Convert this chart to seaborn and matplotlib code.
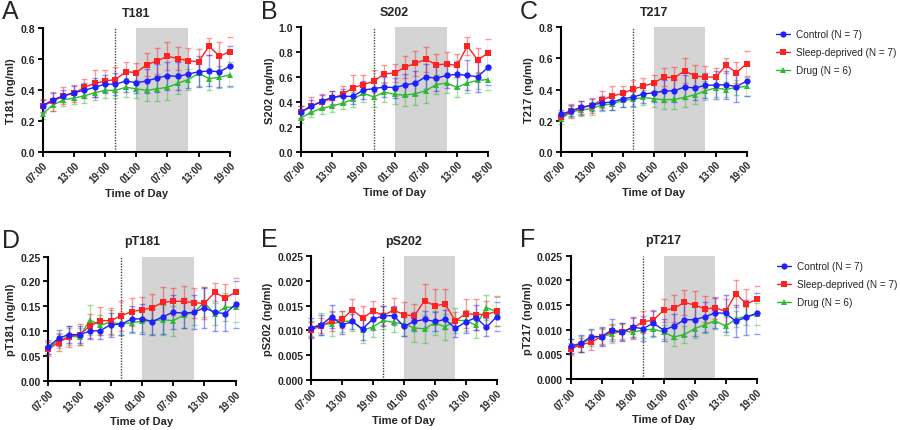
import numpy as np
import pandas as pd
import matplotlib
matplotlib.use("Agg")
import matplotlib.pyplot as plt
from matplotlib.lines import Line2D
import seaborn as sns

# time axis: hours since 07:00, one sample every 2 h
hours = list(range(0, 37, 2))
tick_pos = [0, 6, 12, 18, 24, 30, 36]
tick_labels = ["07:00", "13:00", "19:00", "01:00", "07:00", "13:00", "19:00"]

groups = ["Control (N = 7)", "Sleep-deprived (N = 7)", "Drug (N = 6)"]

# T181
t181_ctrl = [0.30, 0.34, 0.365, 0.386, 0.40, 0.42, 0.44, 0.44, 0.46, 0.45, 0.46, 0.48, 0.495, 0.49, 0.505, 0.52, 0.525, 0.52, 0.555]
t181_sd = [0.30, 0.33, 0.365, 0.38, 0.42, 0.445, 0.46, 0.47, 0.52, 0.515, 0.565, 0.59, 0.62, 0.605, 0.59, 0.585, 0.685, 0.62, 0.65]
t181_drug = [0.25, 0.305, 0.34, 0.35, 0.365, 0.385, 0.40, 0.40, 0.42, 0.41, 0.40, 0.41, 0.42, 0.445, 0.47, 0.51, 0.475, 0.485, 0.50]
t181_ctrl_err = [0.04, 0.04, 0.04, 0.045, 0.05, 0.06, 0.06, 0.07, 0.07, 0.07, 0.08, 0.09, 0.09, 0.09, 0.09, 0.10, 0.10, 0.10, 0.13]
t181_sd_err = [0.045, 0.06, 0.055, 0.055, 0.056, 0.085, 0.07, 0.08, 0.06, 0.06, 0.075, 0.085, 0.09, 0.075, 0.085, 0.08, 0.055, 0.09, 0.095]
t181_drug_err = [0.035, 0.04, 0.04, 0.04, 0.045, 0.05, 0.05, 0.05, 0.06, 0.06, 0.07, 0.08, 0.08, 0.07, 0.07, 0.08, 0.07, 0.07, 0.08]

# S202
s202_ctrl = [0.316, 0.365, 0.405, 0.437, 0.445, 0.445, 0.496, 0.507, 0.52, 0.515, 0.536, 0.552, 0.603, 0.59, 0.614, 0.622, 0.614, 0.603, 0.68]
s202_sd = [0.32, 0.37, 0.40, 0.43, 0.46, 0.515, 0.54, 0.566, 0.625, 0.633, 0.68, 0.71, 0.743, 0.70, 0.705, 0.694, 0.85, 0.737, 0.796]
s202_drug = [0.273, 0.316, 0.35, 0.367, 0.39, 0.42, 0.47, 0.44, 0.48, 0.46, 0.455, 0.466, 0.49, 0.54, 0.552, 0.517, 0.552, 0.574, 0.58]
s202_ctrl_err = [0.05, 0.05, 0.05, 0.05, 0.06, 0.06, 0.07, 0.08, 0.08, 0.08, 0.09, 0.10, 0.10, 0.10, 0.10, 0.11, 0.12, 0.12, 0.14]
s202_sd_err = [0.05, 0.07, 0.06, 0.06, 0.07, 0.10, 0.08, 0.09, 0.07, 0.07, 0.09, 0.10, 0.10, 0.09, 0.10, 0.09, 0.07, 0.10, 0.11]
s202_drug_err = [0.04, 0.04, 0.05, 0.05, 0.05, 0.06, 0.07, 0.08, 0.08, 0.08, 0.09, 0.09, 0.10, 0.08, 0.08, 0.08, 0.08, 0.07, 0.08]

# T217
t217_ctrl = [0.239, 0.263, 0.285, 0.30, 0.313, 0.32, 0.34, 0.351, 0.371, 0.379, 0.39, 0.392, 0.416, 0.41, 0.427, 0.429, 0.431, 0.418, 0.455]
t217_sd = [0.224, 0.26, 0.283, 0.296, 0.334, 0.358, 0.375, 0.403, 0.422, 0.442, 0.48, 0.476, 0.52, 0.487, 0.48, 0.48, 0.556, 0.509, 0.567]
t217_drug = [0.21, 0.256, 0.267, 0.278, 0.30, 0.306, 0.33, 0.336, 0.35, 0.34, 0.334, 0.336, 0.35, 0.366, 0.392, 0.41, 0.40, 0.414, 0.42]
t217_ctrl_err = [0.03, 0.035, 0.04, 0.04, 0.045, 0.05, 0.05, 0.06, 0.06, 0.06, 0.07, 0.07, 0.08, 0.08, 0.08, 0.09, 0.09, 0.10, 0.10]
t217_sd_err = [0.03, 0.045, 0.045, 0.05, 0.055, 0.065, 0.05, 0.06, 0.05, 0.05, 0.06, 0.07, 0.08, 0.07, 0.07, 0.06, 0.05, 0.07, 0.08]
t217_drug_err = [0.03, 0.035, 0.035, 0.04, 0.04, 0.04, 0.04, 0.05, 0.05, 0.05, 0.06, 0.06, 0.06, 0.06, 0.06, 0.06, 0.05, 0.05, 0.06]

# pT181
pt181_ctrl = [0.068, 0.086, 0.093, 0.093, 0.10, 0.101, 0.113, 0.114, 0.124, 0.125, 0.119, 0.129, 0.138, 0.136, 0.138, 0.147, 0.138, 0.135, 0.154]
pt181_sd = [0.064, 0.077, 0.089, 0.093, 0.11, 0.121, 0.121, 0.131, 0.139, 0.143, 0.147, 0.158, 0.16, 0.16, 0.157, 0.156, 0.178, 0.167, 0.178]
pt181_drug = [0.066, 0.081, 0.089, 0.089, 0.122, 0.112, 0.118, 0.114, 0.117, 0.12, 0.121, 0.123, 0.121, 0.132, 0.138, 0.158, 0.134, 0.148, 0.148]
pt181_ctrl_err = [0.014, 0.017, 0.018, 0.018, 0.016, 0.016, 0.024, 0.022, 0.026, 0.03, 0.026, 0.035, 0.034, 0.03, 0.034, 0.04, 0.038, 0.035, 0.048]
pt181_sd_err = [0.015, 0.018, 0.022, 0.022, 0.024, 0.028, 0.026, 0.03, 0.028, 0.025, 0.028, 0.03, 0.027, 0.03, 0.03, 0.032, 0.018, 0.028, 0.03]
pt181_drug_err = [0.012, 0.015, 0.018, 0.018, 0.03, 0.02, 0.025, 0.022, 0.02, 0.022, 0.026, 0.03, 0.03, 0.025, 0.025, 0.03, 0.022, 0.028, 0.03]

# pS202
ps202_ctrl = [0.0105, 0.0111, 0.0128, 0.0111, 0.0118, 0.0103, 0.0123, 0.0129, 0.013, 0.0108, 0.0118, 0.0122, 0.0118, 0.0122, 0.0104, 0.0117, 0.0126, 0.0106, 0.0128]
ps202_sd = [0.0101, 0.0109, 0.0119, 0.0122, 0.0142, 0.0125, 0.0139, 0.013, 0.0141, 0.0132, 0.0129, 0.016, 0.015, 0.0153, 0.0119, 0.0134, 0.0132, 0.0132, 0.0139]
ps202_drug = [0.0104, 0.0113, 0.0113, 0.0118, 0.0119, 0.010, 0.0107, 0.012, 0.0116, 0.0113, 0.0105, 0.0103, 0.0115, 0.0107, 0.012, 0.012, 0.011, 0.0146, 0.0138]
ps202_ctrl_err = [0.002, 0.002, 0.0023, 0.0018, 0.0015, 0.0022, 0.0022, 0.002, 0.002, 0.002, 0.002, 0.0018, 0.002, 0.002, 0.0018, 0.0022, 0.0025, 0.0018, 0.003]
ps202_sd_err = [0.0015, 0.0015, 0.002, 0.0018, 0.0022, 0.0025, 0.0021, 0.002, 0.0024, 0.0025, 0.0025, 0.0033, 0.0033, 0.0031, 0.0018, 0.003, 0.0031, 0.0028, 0.003]
ps202_drug_err = [0.0015, 0.0022, 0.0025, 0.0021, 0.002, 0.0026, 0.002, 0.0018, 0.002, 0.0025, 0.0028, 0.0028, 0.0025, 0.0026, 0.0025, 0.0022, 0.0025, 0.0026, 0.003]

# pT217
pt217_ctrl = [0.0067, 0.0072, 0.0086, 0.0086, 0.0099, 0.0095, 0.0105, 0.0102, 0.0113, 0.0099, 0.0107, 0.012, 0.012, 0.0126, 0.0134, 0.0133, 0.0117, 0.0125, 0.0133]
pt217_sd = [0.0061, 0.0069, 0.0075, 0.0086, 0.0097, 0.0096, 0.0103, 0.0116, 0.0119, 0.0139, 0.0143, 0.0155, 0.015, 0.0142, 0.0144, 0.0137, 0.0173, 0.0152, 0.0161]
pt217_drug = [0.0065, 0.0071, 0.0083, 0.0086, 0.0091, 0.0097, 0.0095, 0.0099, 0.0101, 0.0095, 0.0085, 0.009, 0.0102, 0.011, 0.0118, 0.0107, 0.0122, 0.0127, 0.0131]
pt217_ctrl_err = [0.0015, 0.0017, 0.0016, 0.002, 0.0022, 0.0019, 0.002, 0.0025, 0.0025, 0.0022, 0.0025, 0.0033, 0.0033, 0.003, 0.003, 0.0038, 0.0032, 0.0035, 0.0042]
pt217_sd_err = [0.0012, 0.0014, 0.0016, 0.0018, 0.0015, 0.0017, 0.0021, 0.0022, 0.002, 0.0023, 0.0027, 0.0025, 0.0028, 0.0027, 0.0022, 0.0025, 0.0028, 0.0031, 0.0028]
pt217_drug_err = [0.0015, 0.0017, 0.0016, 0.0015, 0.0018, 0.0015, 0.0012, 0.0015, 0.0015, 0.0015, 0.0018, 0.0018, 0.0018, 0.0017, 0.0016, 0.0018, 0.0016, 0.0018, 0.0022]

colors = {groups[0]: "#1f1fff", groups[1]: "#ff2222", groups[2]: "#2dbb2d"}
markers = {groups[0]: "o", groups[1]: "s", groups[2]: "^"}

panels = [
    ("A", "T181", (t181_ctrl, t181_sd, t181_drug), (t181_ctrl_err, t181_sd_err, t181_drug_err),
     [0.0474, 0.644, 0.208, 0.288], 0.8, 0.2, "%.1f"),
    ("B", "S202", (s202_ctrl, s202_sd, s202_drug), (s202_ctrl_err, s202_sd_err, s202_drug_err),
     [0.3344, 0.646, 0.208, 0.288], 1.0, 0.2, "%.1f"),
    ("C", "T217", (t217_ctrl, t217_sd, t217_drug), (t217_ctrl_err, t217_sd_err, t217_drug_err),
     [0.623, 0.646, 0.2067, 0.288], 0.8, 0.2, "%.1f"),
    ("D", "pT181", (pt181_ctrl, pt181_sd, pt181_drug), (pt181_ctrl_err, pt181_sd_err, pt181_drug_err),
     [0.0537, 0.1144, 0.208, 0.2877], 0.25, 0.05, "%.2f"),
    ("E", "pS202", (ps202_ctrl, ps202_sd, ps202_drug), (ps202_ctrl_err, ps202_sd_err, ps202_drug_err),
     [0.3456, 0.1167, 0.2063, 0.2863], 0.025, 0.005, "%.3f"),
    ("F", "pT217", (pt217_ctrl, pt217_sd, pt217_drug), (pt217_ctrl_err, pt217_sd_err, pt217_drug_err),
     [0.634, 0.1183, 0.2067, 0.2865], 0.025, 0.005, "%.3f"),
]

sns.set_theme(style="ticks")
plt.rcParams["font.family"] = ["Liberation Sans", "DejaVu Sans"]

fig = plt.figure(figsize=(9, 4.31), dpi=100)

letter_x = {"A": 0.002, "B": 0.29, "C": 0.578, "D": 0.002, "E": 0.29, "F": 0.578}
legend_pos = {"C": (1.16, 0.985), "F": (1.11, 0.955)}

for letter, name, series, errs, rect, ymax, ystep, fmt in panels:
    ax = fig.add_axes(rect)

    rows = []
    for g, vals in zip(groups, series):
        for h, v in zip(hours, vals):
            rows.append({"hour": h, "value": v, "group": g})
    df = pd.DataFrame(rows)

    # background: dark phase shading + lights-off marker
    ax.axvspan(18, 28, color="#d4d4d4", lw=0, zorder=0)
    ax.axvline(14, color="#444444", ls=(0, (1, 1)), lw=1, zorder=1)

    draw_order = [groups[2], groups[1], groups[0]]
    for z, g in enumerate(draw_order):
        i = groups.index(g)
        ax.errorbar(hours, series[i], yerr=errs[i], fmt="none", ecolor=colors[g],
                    alpha=0.45, capsize=2.2, elinewidth=1, capthick=1, zorder=2 + z)
    sns.lineplot(data=df, x="hour", y="value", hue="group", style="group",
                 hue_order=draw_order, style_order=draw_order,
                 palette=colors, markers=markers, dashes=False, legend=False,
                 linewidth=1, markersize=4.5, markeredgewidth=0, ax=ax, zorder=6)
    for line in ax.lines:
        line.set_clip_on(False)

    ax.set_xlim(0, 36)
    ax.set_ylim(0, ymax)
    ax.set_xticks(tick_pos)
    ax.set_xticklabels(tick_labels, rotation=45, ha="right", rotation_mode="anchor",
                       fontsize=7, fontweight="bold")
    ax.set_yticks(np.arange(0, ymax + ystep / 2, ystep))
    ax.set_yticklabels([fmt % t for t in np.arange(0, ymax + ystep / 2, ystep)],
                       fontsize=7.5, fontweight="bold")
    ax.tick_params(width=1.3, length=3.5, color="black", pad=2)
    for s in ["left", "bottom"]:
        ax.spines[s].set_linewidth(1.5)
        ax.spines[s].set_color("black")
    sns.despine(ax=ax)

    ax.set_xlabel("Time of Day", fontsize=8, fontweight="bold", labelpad=2)
    ax.set_ylabel(f"{name} (ng/ml)", fontsize=8, fontweight="bold", labelpad=3)
    ax.set_title(name, fontsize=9, fontweight="bold", pad=9)

    top = rect[1] + rect[3]
    fig.text(letter_x[letter], top + 0.067, letter, fontsize=18, va="top", ha="left")

    if letter in legend_pos:
        handles = [Line2D([], [], color=colors[g], marker=markers[g], markersize=4.5,
                          markeredgewidth=0, lw=1) for g in groups]
        ax.legend(handles, groups, loc="upper left", bbox_to_anchor=legend_pos[letter],
                  frameon=False, fontsize=7.2, handlelength=1.4, labelspacing=0.8,
                  handletextpad=0.6, borderaxespad=0, borderpad=0)

plt.savefig("out.png", dpi=100)
plt.close()
